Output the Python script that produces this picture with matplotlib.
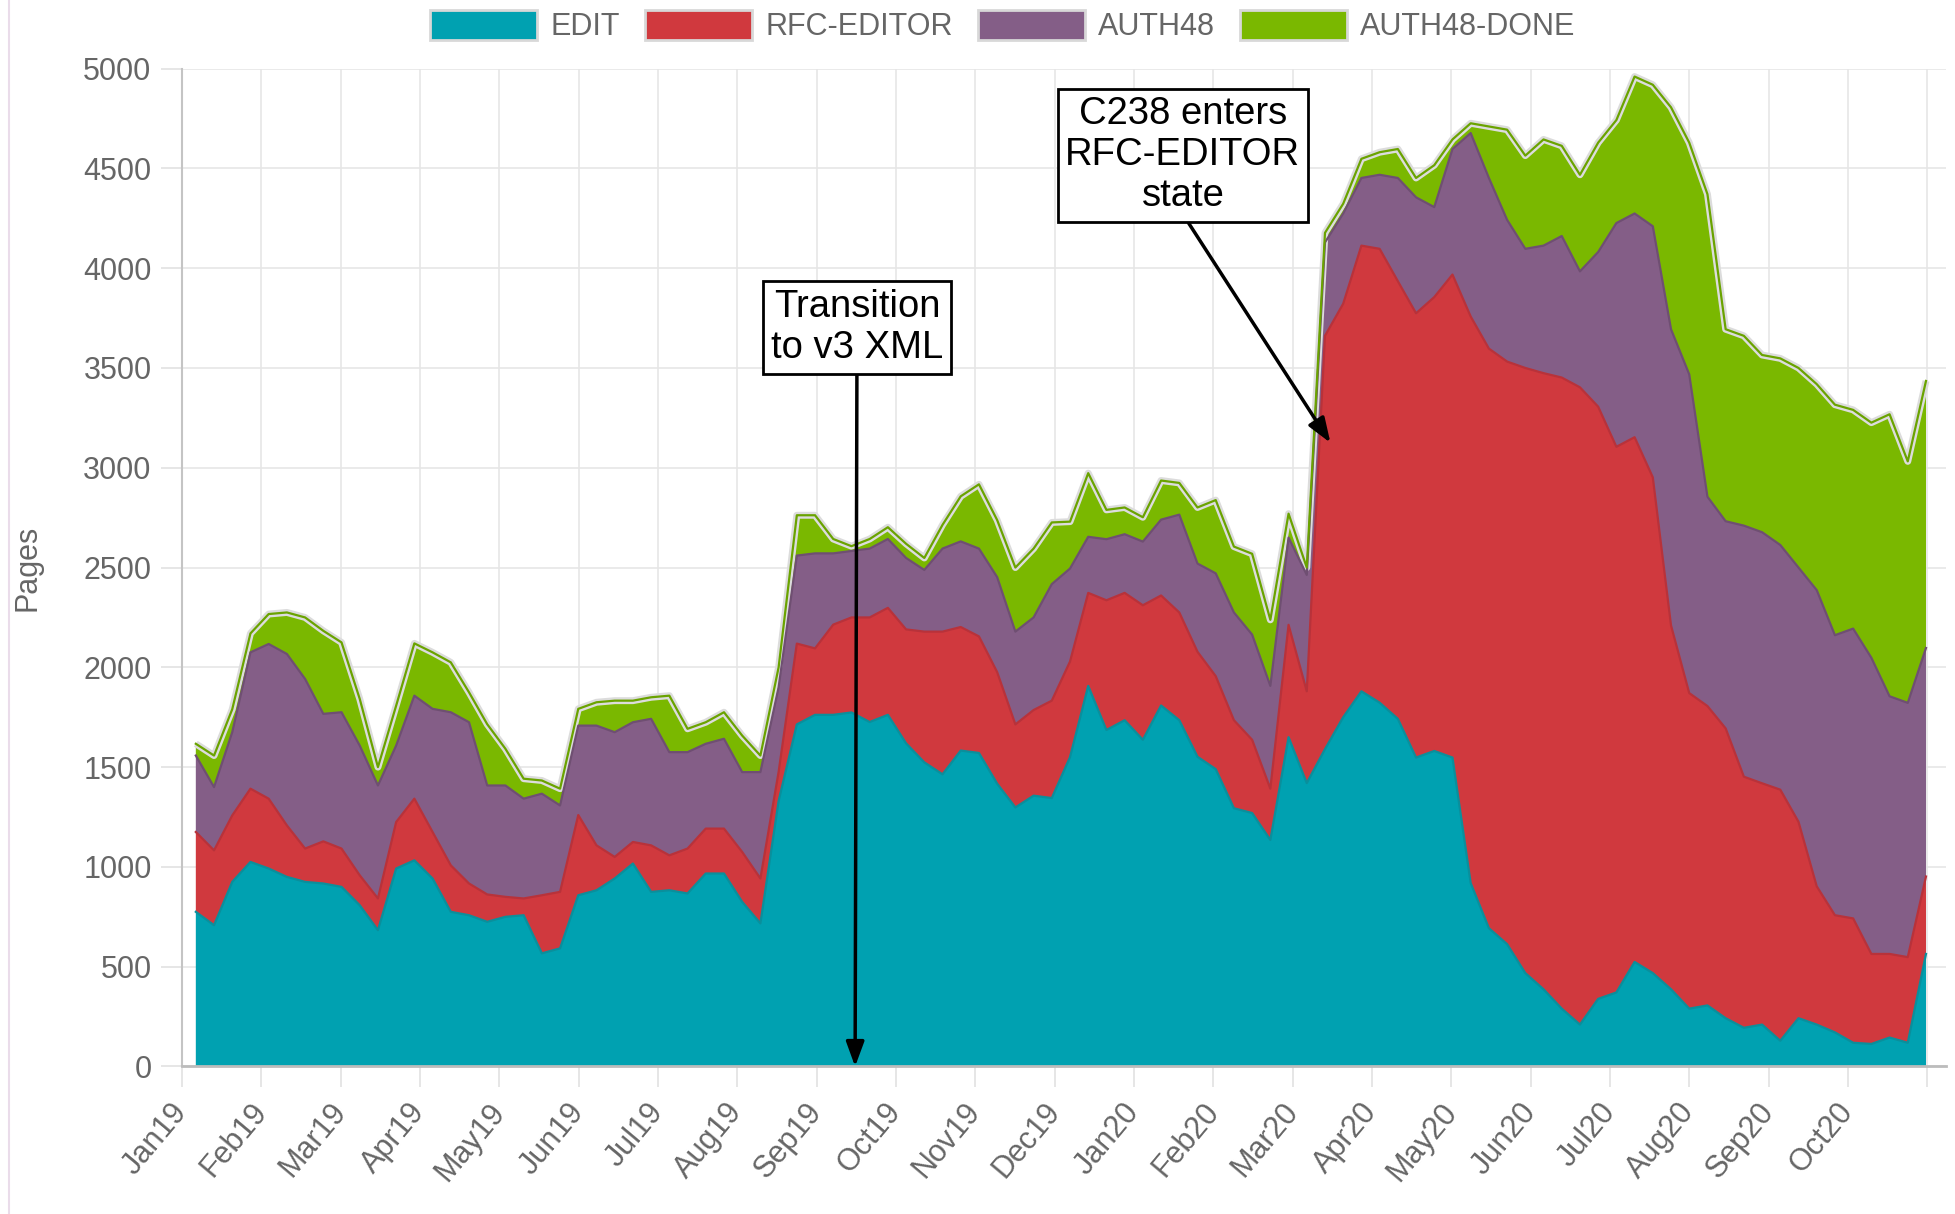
import numpy as np
import matplotlib
matplotlib.use("Agg")
import matplotlib.pyplot as plt
from matplotlib.patches import Patch
from matplotlib.lines import Line2D

plt.rcParams['font.family'] = ['Liberation Sans', 'DejaVu Sans']

# weekly samples, Jan 2019 .. Nov 2020 (pages per state)
edit = [775, 708, 925, 1025, 992, 950, 925, 917, 900, 808,
        683, 992, 1033, 942, 775, 758, 725, 750, 758, 567,
        592, 858, 883, 942, 1017, 875, 883, 867, 967, 967,
        825, 717, 1330, 1714, 1762, 1762, 1774, 1726, 1762, 1619,
        1524, 1464, 1583, 1571, 1417, 1298, 1357, 1345, 1550, 1907,
        1686, 1735, 1637, 1809, 1735, 1552, 1490, 1294, 1270, 1135,
        1650, 1420, 1590, 1750, 1880, 1823, 1742, 1548, 1581, 1548,
        919, 693, 613, 468, 387, 290, 210, 339, 371, 524,
        468, 387, 290, 306, 242, 194, 210, 129, 242, 210,
        171, 119, 113, 145, 119, 564]
rfc_editor = [400, 375, 333, 367, 350, 258, 167, 211, 192, 150,
              159, 233, 309, 233, 233, 159, 137, 100, 84, 291,
              283, 402, 225, 108, 108, 233, 175, 225, 225, 225,
              250, 225, 146, 405, 333, 452, 476, 524, 536, 571,
              655, 715, 619, 584, 559, 416, 429, 488, 479, 466,
              650, 638, 674, 551, 540, 526, 466, 441, 367, 257,
              563, 460, 2071, 2072, 2233, 2274, 2193, 2226, 2274, 2420,
              2839, 2904, 2919, 3032, 3087, 3162, 3193, 2967, 2734, 2629,
              2484, 1823, 1581, 1500, 1452, 1258, 1209, 1258, 984, 693,
              587, 623, 451, 419, 429, 388]
auth48 = [383, 317, 417, 683, 775, 859, 850, 639, 683, 650,
          566, 383, 516, 617, 767, 808, 546, 558, 500, 509,
          433, 448, 600, 625, 600, 634, 517, 483, 425, 450,
          400, 533, 424, 441, 476, 357, 333, 345, 345, 358,
          309, 416, 429, 440, 476, 465, 464, 584, 466, 281,
          306, 294, 319, 380, 490, 442, 515, 540, 527, 515,
          437, 583, 468, 452, 339, 371, 517, 581, 451, 629,
          919, 855, 710, 597, 639, 709, 581, 775, 1121, 1121,
          1258, 1484, 1597, 1049, 1038, 1258, 1258, 1226, 1274, 1484,
          1403, 1452, 1484, 1291, 1274, 1145]
auth48_done = [59, 158, 115, 95, 150, 208, 308, 416, 350, 234,
               92, 200, 262, 283, 250, 150, 307, 184, 100, 66,
               84, 84, 117, 158, 108, 108, 283, 117, 108, 133,
               183, 83, 100, 202, 191, 72, 24, 48, 59, 71,
               60, 119, 226, 322, 286, 321, 345, 309, 235, 319,
               147, 134, 122, 196, 159, 281, 367, 330, 405, 331,
               120, 37, 48, 49, 96, 113, 145, 97, 210, 48,
               49, 258, 452, 467, 532, 452, 484, 548, 516, 686,
               709, 1112, 1161, 1516, 962, 951, 888, 935, 1000, 1032,
               1155, 1096, 1178, 1413, 1210, 1338]

labels = ['EDIT', 'RFC-EDITOR', 'AUTH48', 'AUTH48-DONE']
months = ['Jan19', 'Feb19', 'Mar19', 'Apr19', 'May19', 'Jun19', 'Jul19',
          'Aug19', 'Sep19', 'Oct19', 'Nov19', 'Dec19', 'Jan20', 'Feb20',
          'Mar20', 'Apr20', 'May20', 'Jun20', 'Jul20', 'Aug20', 'Sep20',
          'Oct20', '']

colors = ['#00a1b1', '#d0393e', '#845e87', '#7ab800']
edges = ['#0a8f9c', '#b8323a', '#6f4f72', '#6aa300']

series = [edit, rfc_editor, auth48, auth48_done]
weeks = np.arange(len(edit))

fig = plt.figure(figsize=(19.56, 12.14), dpi=100)
ax = fig.add_axes([0.0931, 0.1215, 0.9018, 0.822])

ax.stackplot(weeks, *series, colors=colors, linewidth=0, zorder=2)

# layer borders, like the chart.js lines
tops = np.cumsum(np.array(series), axis=0)
ax.plot(weeks, tops[-1], color='#dcdcdc', lw=5, zorder=2.5, solid_capstyle='butt')
for top, ec in zip(tops, edges):
    ax.plot(weeks, top, color=ec, lw=1.6, zorder=3)

# month ticks, evenly spaced (~4.356 weeks)
tick_pos = -0.753 + 4.356 * np.arange(len(months))
ax.set_xticks(tick_pos)
ax.set_xticklabels(months, rotation=50, ha='right', va='center',
                   rotation_mode='anchor')
ax.set_xlim(tick_pos[0], 96.1)
ax.set_ylim(0, 5000)
ax.set_yticks(np.arange(0, 5001, 500))

ax.tick_params(axis='both', length=15, width=1.2, color='#e2e2e2',
               labelsize=22, labelcolor='#666666')
ax.tick_params(axis='y', pad=7)
ax.tick_params(axis='x', pad=14)
ax.grid(color='#e6e6e6', lw=1.2, zorder=0)
ax.set_axisbelow(True)

for s in ['top', 'right']:
    ax.spines[s].set_visible(False)
ax.spines['left'].set_color('#c4c4c4')
ax.spines['left'].set_linewidth(1.5)
ax.spines['bottom'].set_color('#bcbcbc')
ax.spines['bottom'].set_linewidth(2)

ax.set_ylabel('Pages', fontsize=22, color='#666666')
ax.yaxis.set_label_coords(-0.079, 0.5)

# annotations
box = dict(boxstyle='square,pad=0.2', fc='white', ec='black', lw=2)
arrow = dict(arrowstyle='-|>,head_length=0.6,head_width=0.22',
             color='black', lw=2.5, mutation_scale=25,
             shrinkA=0, shrinkB=0, relpos=(0.5, 0))
ax.annotate('Transition\nto v3 XML', xy=(36.2, 0), xytext=(36.3, 3703),
            ha='center', va='center', fontsize=27.5, linespacing=1.2,
            bbox=box, arrowprops=arrow, zorder=10)
ax.annotate('C238 enters\nRFC-EDITOR\nstate', xy=(62.3, 3125), xytext=(54.2, 4566),
            ha='center', va='center', fontsize=27.5, linespacing=1.18,
            bbox=box, arrowprops=arrow, zorder=10)

# legend across the top
handles = [Patch(facecolor=c, edgecolor='#d8d8d8', lw=2) for c in colors]
fig.legend(handles, labels, loc='center', bbox_to_anchor=(0.5128, 0.9786),
           ncol=4, frameon=False, fontsize=22, labelcolor='#666666',
           handlelength=3.5, handleheight=1.15, handletextpad=0.45,
           columnspacing=0.8, borderpad=0)

# faint page border on the left
fig.add_artist(Line2D([0.0046, 0.0046], [0, 1], transform=fig.transFigure,
                      color='#eadcea', lw=1.5))

fig.savefig('out.png', dpi=100)
